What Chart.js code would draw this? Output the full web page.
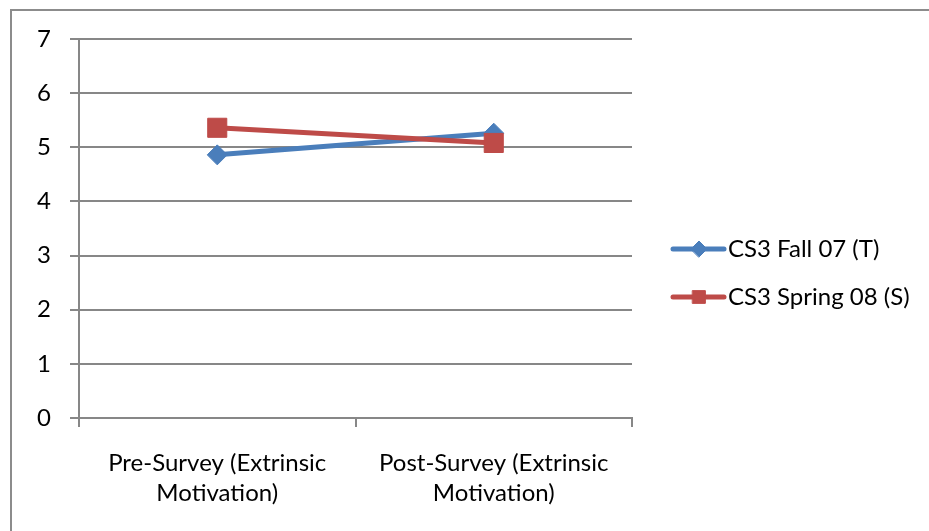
<!DOCTYPE html>
<html>
<head>
<meta charset="utf-8">
<script src="https://cdn.jsdelivr.net/npm/chart.js@4/dist/chart.umd.min.js"></script>
<style>
    html, body {
        margin: 0;
        padding: 0;
        background: #ffffff;
        width: 929px;
        height: 531px;
        overflow: hidden;
    }
    .frame {
        position: absolute;
        left: 10px;
        top: 9px;
        width: 940px;
        height: 540px;
        border-left: 2px solid #8c8c8c;
        border-top: 2px solid #8c8c8c;
    }
    .wrap {
        position: absolute;
        left: 0;
        top: 0;
        width: 929px;
        height: 531px;
    }
</style>
</head>
<body>
<div class="frame"></div>
<div class="wrap"><canvas id="chart" width="929" height="531"></canvas></div>
<script>
// Survey points on the x axis
const categories = [
    ['Pre-Survey (Extrinsic', 'Motivation)'],
    ['Post-Survey (Extrinsic', 'Motivation)']
];

// Mean scores per class
const fallValues = [4.86, 5.26];
const springValues = [5.36, 5.08];

const seriesNames = ['CS3 Fall 07 (T)', 'CS3 Spring 08 (S)'];
const yTicks = [0, 1, 2, 3, 4, 5, 6, 7];

const BLUE = '#4a7ebb';
const RED = '#be4b48';
const GRID = '#878787';
const FONT = 'Lato, "Open Sans", sans-serif';

// Legend on the right: a short line with the series marker in the middle
const sideLegend = {
    id: 'sideLegend',
    afterDraw(chart) {
        const ctx = chart.ctx;
        const rows = [
            { y: 249, color: BLUE, style: 'rectRot', radius: 8 },
            { y: 297, color: RED, style: 'rect', radius: 9 }
        ];
        ctx.save();
        rows.forEach(function(row, i) {
            ctx.strokeStyle = row.color;
            ctx.lineWidth = 5;
            ctx.lineCap = 'round';
            ctx.beginPath();
            ctx.moveTo(673, row.y);
            ctx.lineTo(724, row.y);
            ctx.stroke();

            ctx.fillStyle = row.color;
            ctx.lineWidth = 1;
            Chart.helpers.drawPoint(ctx, {
                pointStyle: row.style,
                radius: row.radius,
                borderWidth: 1,
                rotation: 0
            }, 699, row.y);

            ctx.fillStyle = '#000000';
            ctx.font = '24px ' + FONT;
            ctx.textAlign = 'left';
            ctx.textBaseline = 'middle';
            ctx.fillText(seriesNames[i], 728, row.y);
        });
        ctx.restore();
    }
};

const ctx = document.getElementById('chart').getContext('2d');
const chart = new Chart(ctx, {
    type: 'line',
    data: {
        labels: categories,
        datasets: [
            {
                label: seriesNames[0],
                data: fallValues,
                borderColor: BLUE,
                backgroundColor: BLUE,
                borderWidth: 5,
                pointStyle: 'rectRot',
                pointRadius: 10,
                pointBorderWidth: 1,
                pointBorderColor: BLUE,
                pointBackgroundColor: BLUE,
                tension: 0,
                order: 1
            },
            {
                label: seriesNames[1],
                data: springValues,
                borderColor: RED,
                backgroundColor: RED,
                borderWidth: 5,
                pointStyle: 'rect',
                pointRadius: 13.5,
                pointBorderWidth: 1,
                pointBorderColor: RED,
                pointBackgroundColor: RED,
                tension: 0,
                order: 0
            }
        ]
    },
    options: {
        responsive: false,
        animation: false,
        layout: {
            padding: { left: 0, top: 39, right: 297, bottom: 0 }
        },
        plugins: {
            legend: { display: false },
            tooltip: { enabled: false }
        },
        scales: {
            x: {
                offset: true,
                afterFit: function(scale) { scale.height = 113; },
                grid: {
                    offset: true,
                    drawOnChartArea: false,
                    drawTicks: true,
                    tickLength: 9,
                    color: GRID,
                    lineWidth: 2
                },
                border: { color: GRID, width: 2 },
                ticks: {
                    color: '#000000',
                    font: { family: FONT, size: 24, lineHeight: 1.25 },
                    padding: 21,
                    maxRotation: 0,
                    autoSkip: false
                }
            },
            y: {
                min: 0,
                max: 7,
                afterFit: function(scale) { scale.width = 79; },
                afterBuildTicks: function(scale) {
                    scale.ticks = yTicks.map(function(v) { return { value: v }; });
                },
                grid: {
                    color: GRID,
                    lineWidth: 2,
                    tickLength: 9
                },
                border: { color: GRID, width: 2 },
                ticks: {
                    color: '#000000',
                    font: { family: FONT, size: 24 },
                    padding: 19
                }
            }
        }
    },
    plugins: [sideLegend]
});
</script>
</body>
</html>
